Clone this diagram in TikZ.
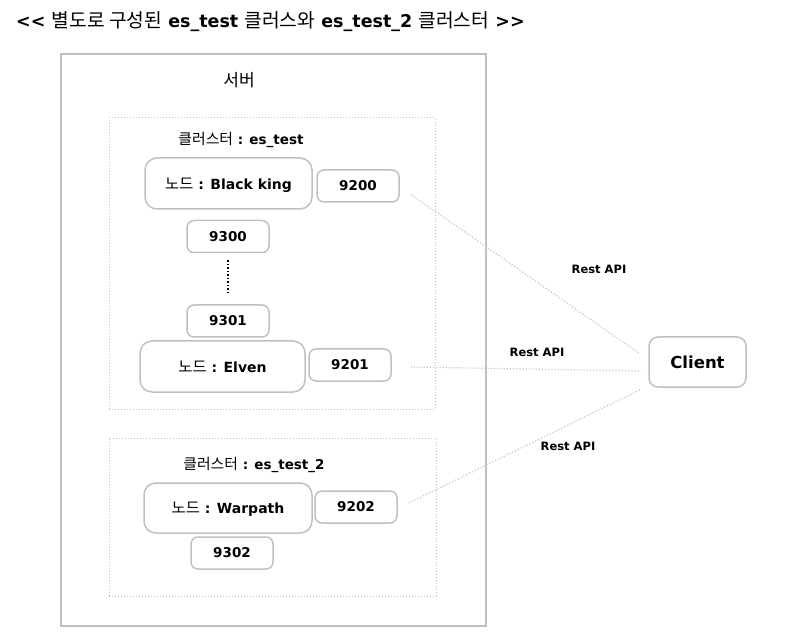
\documentclass[tikz,border=0pt]{standalone}
\usepackage{fontspec}
\setmainfont{DejaVu Sans}
\newfontfamily\korfont[Scale=1.1]{Noto Sans CJK KR}
\newcommand{\hangul}[1]{{\korfont\mdseries #1}}
\usetikzlibrary{positioning}
\definecolor{boxgray}{RGB}{192,192,192}
\definecolor{linkgray}{RGB}{196,196,196}

\begin{document}
\begin{tikzpicture}[
  x=1pt, y=-1pt,
  every node/.style={font=\fontsize{13.5}{16}\selectfont\bfseries, inner sep=0pt},
  container/.style={draw=boxgray, line width=2pt},
  cluster/.style={draw=boxgray, line width=1pt, dotted},
  nodebox/.style={draw=boxgray, line width=1.5pt, rounded corners=12pt, minimum width=167pt, minimum height=51pt, text depth=0pt, font=\fontsize{14}{16}\selectfont\bfseries},
  portbox/.style={draw=boxgray, line width=1.5pt, rounded corners=7pt, minimum width=82pt, minimum height=32pt},
  link/.style={draw=linkgray, line width=1.2pt, dotted},
  api/.style={font=\fontsize{11.5}{14}\selectfont\bfseries}
]
\useasboundingbox (0,0) rectangle (806,644);

\node[anchor=west, font=\fontsize{17.5}{22}\selectfont\bfseries] (title) at (16,22) {{<}{<} \hangul{별도로 구성된} es\_test \hangul{클러스와} es\_test\_2 \hangul{클러스터} {>}{>}};

% server and clusters
\node[container, minimum width=425pt, minimum height=572pt] (server) at (273.5,340) {};
\node[font=\fontsize{15.5}{18}\selectfont] (srvlabel) at (239,80) {\hangul{서버}};
\node[cluster, minimum width=326pt, minimum height=291pt] (cl1) at (272,263.5) {};
\node (cl1label) at (241,140) {\hangul{클러스터} : es\_test};
\node[cluster, minimum width=327pt, minimum height=158pt] (cl2) at (272.5,517) {};
\node (cl2label) at (254,465) {\hangul{클러스터} : es\_test\_2};

% es_test nodes
\node[nodebox] (blackking) at (228.5,183.5) {\hangul{노드} : Black king};
\node[portbox] (p9200) at (358,186) {9200};
\node[portbox] (p9300) at (228,236.5) {9300};
\node[portbox] (p9301) at (228,321) {9301};
\node[nodebox, minimum width=165pt] (elven) at (222.5,366.5) {\hangul{노드} : Elven};
\node[portbox] (p9201) at (350,365) {9201};
\draw[black, line width=1.5pt, dotted] ([yshift=-7pt]p9300.south) -- ([yshift=10pt]p9301.north);

% es_test_2 nodes
\node[nodebox, minimum width=168pt, minimum height=50pt] (warpath) at (228,508) {\hangul{노드} : Warpath};
\node[portbox] (p9302) at (232,553) {9302};
\node[portbox] (p9202) at (356,507) {9202};

% client
\node[portbox, rounded corners=9pt, minimum width=97pt, minimum height=50pt, font=\fontsize{16.5}{20}\selectfont\bfseries] (client) at (697.5,362) {Client};

\draw[link] ([xshift=12pt,yshift=-9pt]p9200.east) -- ([xshift=-9pt,yshift=-17pt]client.north west);
\draw[link] ([xshift=19pt,yshift=-2pt]p9201.east) -- ([xshift=-7pt,yshift=-9pt]client.west);
\draw[link] ([xshift=11pt,yshift=4pt]p9202.east) -- ([xshift=-8pt,yshift=-2pt]client.south west);

\node[api] (api1) at (599,269) {Rest API};
\node[api] (api2) at (537,352) {Rest API};
\node[api] (api3) at (568,446) {Rest API};

\end{tikzpicture}
\end{document}
